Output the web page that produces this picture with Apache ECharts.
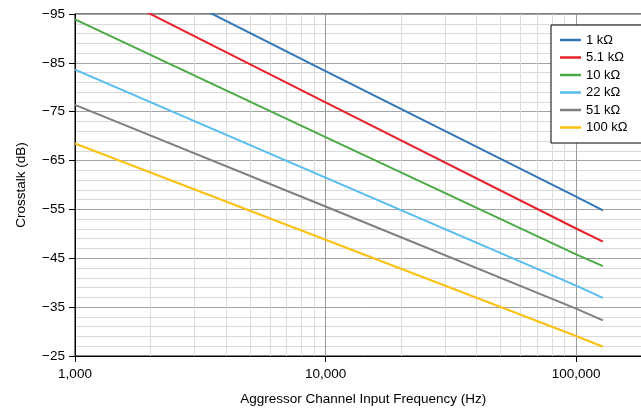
<!DOCTYPE html>
<html>
<head>
<meta charset="utf-8">
<script src="https://cdn.jsdelivr.net/npm/echarts@6/dist/echarts.min.js"></script>
<style>
html,body{margin:0;padding:0;overflow:hidden;background:#fff;width:641px;height:411px;position:relative;}
#c{position:absolute;left:0;top:0;width:665px;height:411px;}
</style>
</head>
<body>
<div id="c"></div>
<script>
// Frequencies (Hz) at which values were read
const freqs = [1000, 10000, 100000, 128000];
// Crosstalk (dB) per source resistance
const names = ['1 kΩ', '5.1 kΩ', '10 kΩ', '22 kΩ', '51 kΩ', '100 kΩ'];
const r1k   = [-109.2, -83.3, -57.6, -54.8];
const r5k1  = [-102.8, -76.9, -51.1, -48.4];
const r10k  = [-93.9, -69.8, -45.8, -43.4];
const r22k  = [-83.6, -61.5, -39.4, -36.9];
const r51k  = [-76.4, -55.6, -34.7, -32.3];
const r100k = [-68.5, -48.8, -29.1, -26.9];
const allValues = [r1k, r5k1, r10k, r22k, r51k, r100k];
const colors = ['#3177b8', '#e8202a', '#4aab46', '#55bdf0', '#7f7f7f', '#fdc010'];
// Minor log grid frequencies
const minorFreqs = [2000,3000,4000,5000,6000,7000,8000,9000,20000,30000,40000,50000,60000,70000,80000,90000];

const FONT = '"Liberation Sans", Arial, Helvetica, sans-serif';
const chart = echarts.init(document.getElementById('c'), null, {renderer: 'canvas', width: 665, height: 411});

const series = allValues.map((vals, i) => ({
  name: names[i],
  type: 'line',
  data: freqs.map((f, j) => [f, vals[j]]),
  showSymbol: false,
  symbol: 'none',
  clip: true,
  z: 3,
  lineStyle: {color: colors[i], width: 2},
  itemStyle: {color: colors[i]},
  animation: false
}));

series.unshift({
  name: 'minorgrid',
  type: 'line',
  data: [],
  z: 1,
  animation: false,
  markLine: {
    silent: true,
    z: 1,
    symbol: ['none', 'none'],
    label: {show: false},
    animation: false,
    lineStyle: {color: '#dcdcdc', width: 1, type: 'solid'},
    emphasis: {disabled: true},
    data: minorFreqs.map(f => ({xAxis: f}))
  }
});

chart.setOption({
  animation: false,
  backgroundColor: '#fff',
  textStyle: {fontFamily: FONT},
  grid: {
    left: 75, top: 14, width: 576.5, height: 345,
    show: true, borderColor: '#000', borderWidth: 1, backgroundColor: 'transparent'
  },
  legend: {
    data: names,
    orient: 'vertical',
    left: 551, top: 25,
    padding: [7.5, 16, 8, 9],
    itemGap: 2.5,
    itemWidth: 21, itemHeight: 2.5,
    icon: 'rect',
    borderColor: '#000', borderWidth: 1,
    backgroundColor: '#fff',
    z: 10,
    textStyle: {fontFamily: FONT, fontSize: 13, color: '#000', lineHeight: 15}
  },
  xAxis: {
    type: 'log',
    logBase: 10,
    min: 1000, max: 200000,
    name: 'Aggressor Channel Input Frequency (Hz)',
    nameLocation: 'middle',
    nameGap: 36,
    nameTextStyle: {fontFamily: FONT, fontSize: 13.5, color: '#000'},
    axisLine: {show: true, onZero: false, lineStyle: {color: '#000', width: 1}},
    axisTick: {show: true, inside: false, length: 6, lineStyle: {color: '#000'}},
    axisLabel: {
      fontFamily: FONT, fontSize: 13.5, color: '#000', margin: 11,
      showMaxLabel: false,
      formatter: v => Math.round(v).toLocaleString('en-US')
    },
    splitLine: {show: true, lineStyle: {color: '#9a9a9a', width: 1}},
    minorTick: {show: false},
    minorSplitLine: {show: false}
  },
  yAxis: {
    type: 'value',
    inverse: true,
    min: -95, max: -25, interval: 10,
    name: 'Crosstalk (dB)',
    nameLocation: 'middle',
    nameGap: 47,
    nameTextStyle: {fontFamily: FONT, fontSize: 13.5, color: '#000'},
    axisLine: {show: true, onZero: false, lineStyle: {color: '#000', width: 1}},
    axisTick: {show: true, inside: false, length: 6, lineStyle: {color: '#000'}},
    axisLabel: {
      fontFamily: FONT, fontSize: 13.5, color: '#000', margin: 10,
      formatter: v => String(v).replace('-', '\u2212')
    },
    splitLine: {show: true, lineStyle: {color: '#a3a3a3', width: 1}},
    minorTick: {show: false, splitNumber: 5},
    minorSplitLine: {show: true, lineStyle: {color: '#d9d9d9', width: 1}}
  },
  series: series
});
</script>
</body>
</html>
